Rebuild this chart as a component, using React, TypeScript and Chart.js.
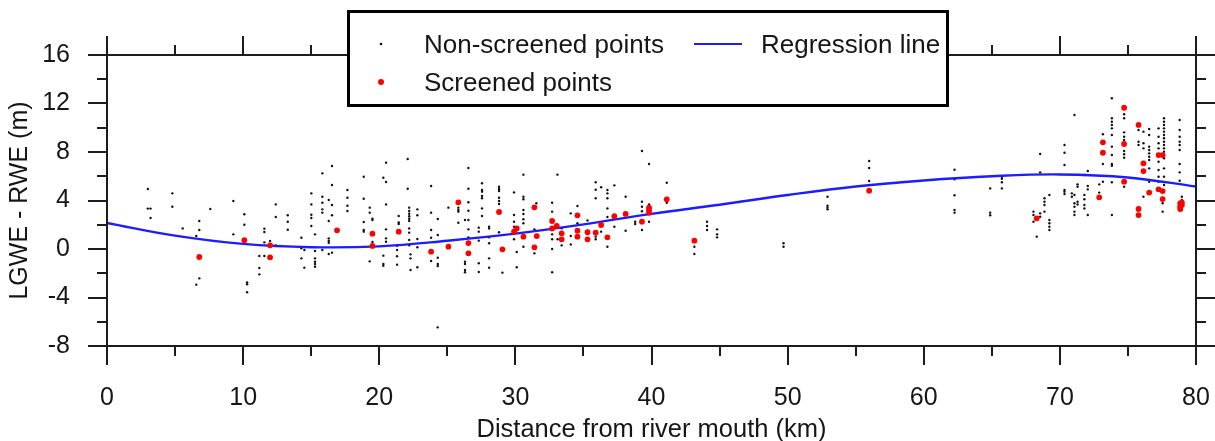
import React, { useEffect, useRef } from "react";
import { Chart, registerables } from "chart.js";

Chart.register(...registerables);

const FONT = "'Liberation Sans', Arial, Helvetica, sans-serif";

// Axis ticks
const xTickValues = [0, 10, 20, 30, 40, 50, 60, 70, 80];
const xMinorTickValues = [5, 15, 25, 35, 45, 55, 65, 75];
const yTickValues = [-8, -4, 0, 4, 8, 12, 16];
const yMinorTickValues = [-6, -2, 2, 6, 10, 14];

// Labels
const xTitle = "Distance from river mouth (km)";
const yTitle = "LGWE - RWE (m)";
const labelNonScreened = "Non-screened points";
const labelScreened = "Screened points";
const labelRegression = "Regression line";

// Regression line
const regressionKm = [0, 5, 10, 15, 20, 25, 30, 35, 40, 45, 50, 55, 60, 65, 70, 75, 80];
const regressionValue = [2.15, 1.1, 0.42, 0.15, 0.22, 0.68, 1.27, 2.03, 2.9, 3.65, 4.45, 5.15, 5.65, 6.0, 6.15, 5.9, 5.15];

// Non-screened points [km, m]
const nonScreened: [number, number][] = [
  [3.0, 4.95], [3.0, 3.33], [3.2, 3.33], [3.2, 2.56], [4.8, 4.59], [4.8, 3.49], [5.56, 1.7], [6.78, 2.31], [6.78, 1.57], [6.56, 1.07],
  [6.78, -2.42], [6.56, -2.94], [7.59, 3.3], [9.28, 3.96], [9.28, 1.21], [10.09, 2.86], [10.09, 2.0], [10.29, -2.75], [10.29, -2.91], [10.29, -3.57],
  [11.19, -0.58], [11.19, -1.57], [11.19, -2.09], [11.56, 1.68], [11.56, 1.4], [11.56, 0.55], [11.56, -0.58],
  [11.98, 0.66], [12.4, 3.68], [12.4, 2.64], [12.4, 0.3], [13.28, 2.78], [13.28, 2.25], [13.28, 1.59], [14.28, 0.93], [14.28, 0.06], [14.28, -0.77],
  [14.5, -0.08], [14.5, -1.54], [15.01, 4.59], [15.01, 3.68], [15.01, 2.83], [15.01, 2.56], [15.01, 1.9], [15.28, 1.21], [15.28, -0.16], [15.28, -0.77],
  [15.28, -1.05], [15.28, -1.24], [15.28, -1.46], [15.82, 6.24], [15.82, 4.31], [15.82, 3.82], [15.82, 3.27], [15.82, 3.0], [15.82, -0.08],
  [16.29, 4.04], [16.29, 2.31], [16.29, 0.88], [16.29, 0.68], [16.29, 0.52], [16.29, -0.41], [16.53, 6.85], [16.53, 5.28], [16.53, 3.63], [16.53, 2.78], [16.53, -0.3],
  [17.66, 4.87], [17.66, 4.23], [17.66, 3.57], [17.66, 3.13], [18.86, 5.96], [18.86, 4.15], [18.86, 2.23], [18.86, 1.57], [18.86, 1.43],
  [19.3, 3.41], [19.3, 3.0], [19.5, 2.5], [19.5, 2.39], [19.5, 0.58], [19.3, -1.02], [20.3, 5.88], [20.5, 5.53], [20.5, 7.12], [20.5, 3.68], [20.5, 1.62],
  [20.5, 0.88], [20.5, 0.6], [20.3, -0.55], [20.3, -1.24], [20.3, -1.38], [21.31, 0.27], [21.31, -0.08], [21.31, -0.6], [21.31, -1.29],
  [21.43, 2.72], [21.43, 2.2], [21.43, 2.06], [22.09, 7.42], [22.09, 4.97], [22.2, 3.41], [22.2, 3.13], [22.2, 2.91], [22.2, 2.7], [22.2, 2.5], [22.2, 2.31],
  [22.2, 1.7], [22.2, 1.35], [22.2, 0.74], [22.2, 0.3], [22.3, -0.44], [22.3, -0.77], [22.3, -1.73],
  [22.8, 3.27], [22.8, 2.78], [22.8, 0.82], [22.8, 0.14], [22.8, -1.51], [23.81, 5.2], [23.81, 3.0], [23.81, 1.57], [23.81, 0.93], [23.81, -0.99],
  [24.3, 2.47], [24.3, 1.15], [24.3, -0.72], [24.3, -1.24], [24.3, -1.4], [24.3, -6.46], [25.08, 3.41], [25.81, 3.41], [25.81, 3.22], [25.81, 3.08], [25.81, 2.17],
  [26.3, 2.39], [26.3, -1.05], [26.3, -1.24], [26.3, -1.73], [26.3, -1.92], [26.55, 6.68], [26.55, 4.97], [26.55, 3.85], [26.55, 3.16], [26.55, 2.39], [26.55, 1.62], [26.55, 0.96],
  [27.31, 1.76], [27.31, 1.43], [27.31, 0.69], [27.31, -1.18], [27.31, -1.9], [27.55, 5.42], [27.55, 4.87], [27.55, 4.73], [27.55, 4.37], [27.55, 4.18], [27.55, 3.35], [27.55, 2.72],
  [28.07, 1.84], [28.07, 1.7], [28.07, 0.96], [28.07, 0.47], [28.07, -0.77], [28.07, -1.54], [28.8, 5.14], [28.8, 4.95], [28.8, 4.78], [28.8, 4.23], [28.8, 3.96], [28.8, 3.71], [28.8, 1.38],
  [29.05, -1.95], [29.9, 4.67], [29.9, 2.8], [29.9, 2.25], [29.9, 1.84], [29.9, 1.24], [29.9, 0.8], [30.1, -0.25], [30.1, -1.51],
  [30.59, 6.13], [30.59, 4.31], [30.59, 4.1], [30.59, 3.22], [30.59, 2.89], [30.59, 2.45], [30.59, 2.12], [30.59, 0.19], [31.54, 3.77], [31.4, 1.62], [31.4, -0.36],
  [33.09, 6.13], [32.7, 3.82], [32.7, 3.08], [32.7, 1.21], [32.7, 0.8], [32.7, 0.0], [32.7, -1.92], [33.4, 1.7],
  [33.4, 0.3], [33.1, 0.8], [34.07, 2.94], [34.07, 1.07], [34.07, 0.38], [34.56, 3.55], [34.56, 2.12], [35.3, 2.36], [35.9, 5.5], [35.9, 4.89], [35.9, 4.18],
  [35.9, 1.02], [35.9, 0.8], [36.3, 5.09], [36.3, 1.43], [36.76, 4.87], [36.76, 4.59], [36.76, 4.18], [36.76, 3.35], [36.76, 2.64], [36.76, 0.19],
  [37.27, 5.25], [37.27, 1.84], [38.1, 4.31], [38.1, 1.51], [38.8, 2.25], [38.8, 2.06], [39.3, 8.08], [39.3, 3.9], [39.3, 3.49], [39.3, 3.11], [39.3, 1.57],
  [39.82, 7.01], [39.82, 3.68], [39.82, 2.25], [41.12, 5.47], [41.12, 3.82], [43.15, 0.19], [43.15, -0.41], [44.08, 2.25], [44.08, 1.9], [44.08, 1.57],
  [44.82, 1.62], [44.82, 1.21], [44.82, 0.96],
  [49.7, 0.47], [49.7, 0.19], [52.93, 4.31], [52.93, 3.57], [52.93, 3.41], [52.93, 3.27], [55.99, 7.26], [55.99, 6.68], [55.99, 5.61],
  [62.26, 6.54], [62.26, 5.75], [62.26, 4.43], [62.26, 3.22], [62.26, 3.0], [64.88, 5.0], [64.88, 3.0], [64.88, 2.78], [65.74, 5.96], [65.74, 5.8], [65.74, 5.5], [65.74, 5.0],
  [68.55, 7.84], [68.55, 6.32], [68.06, 3.08], [68.06, 2.8], [68.06, 2.25], [68.3, 1.02], [68.55, 2.94], [68.55, 2.66], [68.87, 4.18], [68.87, 3.9], [68.87, 3.63], [68.87, 3.08],
  [69.23, 4.45], [69.23, 2.39], [69.23, 2.12], [69.23, 1.84], [69.23, 1.57], [70.34, 8.58], [70.34, 7.94], [70.34, 6.93], [70.34, 4.87], [70.34, 4.73], [70.34, 4.54],
  [71.07, 11.05], [71.07, 4.45], [71.07, 3.77], [71.07, 3.49], [71.07, 3.08], [71.07, 2.8], [70.88, 4.59], [70.88, 4.31], [71.3, 5.33], [71.3, 5.14], [71.3, 3.9], [71.3, 3.68],
  [71.8, 6.1], [71.8, 4.45], [71.8, 4.1], [71.8, 3.63], [71.8, 3.35], [72.05, 6.43], [72.05, 5.2], [72.05, 4.92], [72.05, 2.8], [72.89, 5.33], [72.89, 4.65],
  [73.16, 9.46], [73.16, 7.01], [73.16, 5.55], [73.82, 12.43], [73.82, 10.78], [73.82, 10.5], [73.82, 10.23], [73.82, 9.95], [73.82, 9.4], [73.82, 8.44], [73.82, 7.75],
  [73.82, 7.01], [73.82, 6.87], [73.82, 5.5], [73.82, 2.8], [74.72, 11.11], [74.72, 10.78], [74.72, 9.62], [74.72, 9.26], [74.72, 8.99], [74.72, 8.08], [74.72, 7.81],
  [74.72, 7.53], [74.72, 5.14], [75.78, 9.81], [75.78, 8.85], [75.78, 8.58], [76.14, 9.68], [76.14, 8.72], [76.14, 8.3], [76.14, 4.31],
  [76.56, 9.9], [76.56, 9.4], [76.56, 8.44], [76.56, 8.16], [76.56, 7.89], [76.56, 7.61], [76.56, 7.34], [76.56, 6.65], [76.56, 5.55],
  [77.25, 9.95], [77.25, 9.26], [77.25, 8.72], [77.25, 8.3], [77.25, 7.2], [77.25, 6.52], [77.25, 5.96], [77.25, 5.55], [77.55, 3.77], [77.55, 3.08],
  [77.65, 10.78], [77.65, 10.5], [77.65, 10.23], [77.65, 9.95], [77.65, 9.68], [77.65, 9.4], [77.65, 9.13], [77.65, 8.85], [77.65, 8.58], [77.65, 8.3],
  [77.65, 8.03], [77.65, 7.48], [77.65, 6.65], [77.65, 5.96], [77.65, 5.28], [78.8, 10.64], [78.8, 9.81], [78.8, 9.26], [78.8, 8.85], [78.8, 8.58],
  [78.8, 8.16], [78.8, 7.01], [78.8, 6.32], [78.8, 5.63], [78.96, 4.31], [78.96, 4.04], [78.96, 3.22],
];

// Screened points [km, m]
const screened: [number, number][] = [
  [6.78, -0.66], [10.09, 0.72], [11.98, 0.3], [11.98, -0.69], [16.9, 1.54], [19.5, 1.26], [19.5, 0.25], [21.43, 1.43], [23.81, -0.22], [25.08, 0.19],
  [25.81, 3.85], [26.55, 0.49], [26.55, -0.36], [28.8, 3.05], [29.05, -0.03], [29.9, 1.43], [30.1, 1.7], [30.59, 1.02], [31.4, 3.44], [31.57, 1.07],
  [31.4, 0.14], [32.7, 2.31], [32.7, 1.7], [33.04, 1.9], [33.4, 1.29], [33.4, 0.8], [34.56, 2.78], [34.56, 1.51], [34.56, 1.02], [35.3, 1.38],
  [35.3, 0.8], [35.9, 1.35], [36.3, 1.98], [36.76, 0.96], [37.27, 2.7], [38.1, 2.89], [39.3, 2.25], [39.82, 3.41], [39.82, 3.22], [39.82, 3.0],
  [41.12, 4.1], [43.15, 0.69], [55.99, 4.81], [68.3, 2.53], [72.89, 4.26], [73.16, 8.8], [73.16, 7.94], [74.72, 11.65], [74.72, 8.66], [74.72, 5.55],
  [75.78, 10.23], [75.78, 3.3], [75.78, 2.8], [76.14, 7.07], [76.14, 6.43], [76.56, 4.65], [77.25, 7.75], [77.55, 7.75], [77.25, 4.92], [77.55, 4.78],
  [77.55, 4.12], [78.84, 3.77], [78.84, 3.49], [78.84, 3.3], [78.96, 3.63], [78.96, 3.85],
];

const AXIS_COLOR = "#1c1c1c";
const TEXT_COLOR = "#161616";
const BLUE = "rgb(28, 28, 255)";
const RED = "rgb(255, 0, 0)";

const framePlugin = {
  id: "frameAndLegend",
  afterDraw(chart: any) {
    const ctx = chart.ctx as CanvasRenderingContext2D;
    const { left, right, top, bottom } = chart.chartArea;
    const xs = chart.scales.x;
    const ys = chart.scales.y;
    ctx.save();
    ctx.strokeStyle = AXIS_COLOR;
    ctx.lineWidth = 2;
    ctx.beginPath();
    ctx.moveTo(left, top);
    ctx.lineTo(right, top);
    ctx.lineTo(right, bottom);
    ctx.lineTo(left, bottom);
    ctx.closePath();
    const major = 19;
    const minor = 10;
    const xt = (v: number, len: number) => {
      const p = Math.round(xs.getPixelForValue(v));
      ctx.moveTo(p, bottom);
      ctx.lineTo(p, bottom + len);
      ctx.moveTo(p, top);
      ctx.lineTo(p, top - len);
    };
    const yt = (v: number, len: number) => {
      const p = Math.round(ys.getPixelForValue(v));
      ctx.moveTo(left, p);
      ctx.lineTo(left - len, p);
      ctx.moveTo(right, p);
      ctx.lineTo(right + len, p);
    };
    xTickValues.forEach((v) => xt(v, major));
    xMinorTickValues.forEach((v) => xt(v, minor));
    yTickValues.forEach((v) => yt(v, major));
    yMinorTickValues.forEach((v) => yt(v, minor));
    ctx.stroke();

    // Legend box
    const bx = 347, by = 10, bw = 602, bh = 97;
    ctx.fillStyle = "#ffffff";
    ctx.fillRect(bx, by, bw, bh);
    ctx.lineWidth = 3;
    ctx.strokeStyle = "#000";
    ctx.strokeRect(bx + 1.5, by + 1.5, bw - 3, bh - 3);

    const ds = chart.data.datasets;
    ctx.font = `26px ${FONT}`;
    ctx.textBaseline = "alphabetic";
    ctx.textAlign = "left";
    // Non-screened
    ctx.beginPath();
    ctx.fillStyle = "#111";
    ctx.arc(381, 44, 1.3, 0, Math.PI * 2);
    ctx.fill();
    ctx.fillStyle = TEXT_COLOR;
    ctx.fillText(ds[2].label, 424, 53);
    // Regression
    ctx.beginPath();
    ctx.strokeStyle = BLUE;
    ctx.lineWidth = 2;
    ctx.moveTo(694, 44);
    ctx.lineTo(742, 44);
    ctx.stroke();
    ctx.fillText(ds[1].label, 761, 53);
    // Screened
    ctx.beginPath();
    ctx.fillStyle = RED;
    ctx.arc(381, 82, 3, 0, Math.PI * 2);
    ctx.fill();
    ctx.fillStyle = TEXT_COLOR;
    ctx.fillText(ds[0].label, 424, 91);
    ctx.restore();
  },
};

export default function App() {
  const ref = useRef<HTMLCanvasElement>(null);
  useEffect(() => {
    const canvas = ref.current;
    if (!canvas) return;
    const chart = new Chart(canvas, {
      type: "scatter",
      data: {
        datasets: [
          {
            label: labelScreened,
            data: screened.map(([x, y]) => ({ x, y })),
            backgroundColor: RED,
            borderWidth: 0,
            pointRadius: 2.9,
            order: 0,
          },
          {
            type: "line",
            label: labelRegression,
            data: regressionKm.map((x, i) => ({ x, y: regressionValue[i] })),
            borderColor: BLUE,
            borderWidth: 2.4,
            pointRadius: 0,
            tension: 0.4,
            fill: false,
            order: 1,
          } as any,
          {
            label: labelNonScreened,
            data: nonScreened.map(([x, y]) => ({ x, y })),
            backgroundColor: "#111",
            borderWidth: 0,
            pointRadius: 1.2,
            order: 2,
          },
        ],
      },
      options: {
        responsive: false,
        animation: false,
        devicePixelRatio: 1,
        layout: { padding: { top: 55, right: 19, left: 0, bottom: 0 } },
        plugins: { legend: { display: false }, tooltip: { enabled: false } },
        scales: {
          x: {
            type: "linear",
            position: "bottom",
            min: 0,
            max: 80,
            grid: { display: false, drawTicks: false, tickLength: 0 },
            border: { display: false },
            afterBuildTicks: (s: any) => {
              s.ticks = xTickValues.map((v) => ({ value: v }));
            },
            afterFit: (s: any) => {
              s.height = 95;
              s.paddingLeft = 0;
              s.paddingRight = 0;
            },
            ticks: {
              padding: 37,
              color: TEXT_COLOR,
              font: { family: FONT, size: 25 },
              maxRotation: 0,
            },
            title: {
              display: true,
              text: xTitle,
              color: TEXT_COLOR,
              font: { family: FONT, size: 25.5, lineHeight: 0.9 },
              padding: { top: 0, bottom: 0 },
            },
          },
          y: {
            type: "linear",
            position: "left",
            min: -8,
            max: 16,
            grid: { display: false, drawTicks: false, tickLength: 0 },
            border: { display: false },
            afterBuildTicks: (s: any) => {
              s.ticks = yTickValues.map((v) => ({ value: v }));
            },
            afterFit: (s: any) => {
              s.width = 107;
              s.paddingTop = 0;
              s.paddingBottom = 0;
            },
            ticks: {
              padding: 37,
              color: TEXT_COLOR,
              font: { family: FONT, size: 25 },
            },
            title: {
              display: true,
              text: yTitle,
              color: TEXT_COLOR,
              font: { family: FONT, size: 25 },
              padding: { top: 5, bottom: 0 },
            },
          },
        },
      },
      plugins: [framePlugin],
    });
    return () => chart.destroy();
  }, []);
  return (
    <div style={{ position: "fixed", left: 0, top: 0, width: 1215, height: 441, background: "#fff" }}>
      <canvas ref={ref} width={1215} height={441} style={{ display: "block", width: 1215, height: 441 }} />
    </div>
  );
}
